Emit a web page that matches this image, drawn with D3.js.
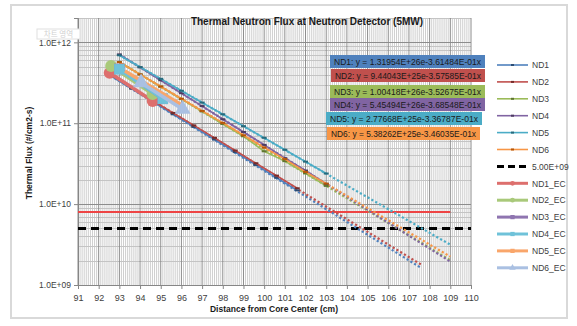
<!DOCTYPE html>
<html>
<head>
<meta charset="utf-8">
<script src="https://cdn.jsdelivr.net/npm/d3@7"></script>
<style>
  body { margin: 0; background: #fff; }
  svg { display: block; font-family: "Liberation Sans", Arial, sans-serif; }
</style>
</head>
<body>
<svg id="chart" width="577" height="326"></svg>
<script>
// --- data ---
const seriesNames = ['ND1', 'ND2', 'ND3', 'ND4', 'ND5', 'ND6'];
const xShort = [92.6, 93.6, 94.6, 95.6, 96.6, 97.6, 98.6, 99.6, 100.6, 101.6];
const xLong = [93, 94, 95, 96, 97, 98, 99, 100, 101, 102, 103];
const nd1 = [3.83e11, 2.67e11, 1.86e11, 1.29e11, 9.0e10, 6.3e10, 4.4e10, 3.05e10, 2.12e10, 1.48e10];
const nd2 = [3.93e11, 2.75e11, 1.92e11, 1.34e11, 9.4e10, 6.6e10, 4.6e10, 3.2e10, 2.25e10, 1.57e10];
const nd3 = [5.72e11, 4.02e11, 2.83e11, 1.99e11, 1.40e11, 9.8e10, 6.9e10, 4.5e10, 3.4e10, 2.4e10, 1.68e10];
const nd4 = [7.10e11, 4.91e11, 3.40e11, 2.35e11, 1.63e11, 1.12e11, 7.8e10, 5.4e10, 3.7e10, 2.6e10, 1.78e10];
const nd5 = [6.93e11, 4.95e11, 3.54e11, 2.52e11, 1.80e11, 1.29e11, 9.2e10, 6.6e10, 4.7e10, 3.35e10, 2.39e10];
const nd6 = [5.69e11, 4.02e11, 2.85e11, 2.01e11, 1.42e11, 1.01e11, 7.1e10, 5.0e10, 3.6e10, 2.5e10, 1.79e10];

// trendline end points (forecast forward), start is the first data point
const trendEndX = [107.6, 107.6, 109, 109, 109, 109];
const trendEndY = [1.62e9, 1.78e9, 2.03e9, 1.95e9, 3.15e9, 2.24e9];
const trendLabels = [
  'ND1: y = 1.31954E+26e-3.61484E-01x',
  'ND2: y = 9.44043E+25e-3.57585E-01x',
  'ND3: y = 1.00418E+26e-3.52675E-01x',
  'ND4: y = 5.45494E+26e-3.68548E-01x',
  'ND5: y = 2.77668E+25e-3.36787E-01x',
  'ND6: y = 5.38262E+25e-3.46035E-01x'
];

// EC series (two points each)
const ecNames = ['ND1_EC', 'ND2_EC', 'ND3_EC', 'ND4_EC', 'ND5_EC', 'ND6_EC'];
const ecX = [[92.53, 94.61], [92.6, 94.61], [93.0, 95.1], [93.0, 95.1], [93.27, 95.96], [94.05, 96.06]];
const ecY = [[4.2e11, 1.88e11], [5.1e11, 2.29e11], [4.7e11, 2.0e11], [4.64e11, 2.01e11], [4.43e11, 1.72e11], [3.17e11, 1.49e11]];

const limitValue = 5.0e9;
const redLineValue = 8.0e9;
const redLineRange = [91, 109];

const xTicks = d3.range(91, 111);
const yTicks = [1e9, 1e10, 1e11, 1e12];

// --- styles ---
const COLORS = ['#4f81bd', '#c0504d', '#9bbb59', '#8064a2', '#4bacc6', '#f79646'];
const DARK = ['#2c4d75', '#772c2a', '#5f7530', '#4d3b62', '#276a7c', '#b65708'];
const EC_COLORS = ['#dd6f6d', '#a9c97a', '#8f75b0', '#6fc2d9', '#f9a66b', '#aac0e2'];
const EC_SYMBOLS = [d3.symbolCircle, d3.symbolCircle, d3.symbolSquare, d3.symbolSquare, d3.symbolSquare, d3.symbolTriangle];

const plot = { left: 78, right: 471, top: 18, bottom: 285 };

const svg = d3.select('#chart');

// chart area frame
svg.append('rect')
  .attr('x', 11).attr('y', 5).attr('width', 556).attr('height', 313)
  .attr('fill', '#fff').attr('stroke', '#d9d9d9').attr('stroke-width', 2);

const x = d3.scaleLinear().domain([91, 110]).range([plot.left, plot.right]);
const y = d3.scaleLog().domain([1e9, 2e12]).range([plot.bottom, plot.top]);

// --- grid ---
const grid = svg.append('g');
const minorX = d3.range(910, 1101).map(d => d / 10).filter(d => Math.abs(d - Math.round(d)) > 1e-6);
grid.selectAll('.vminor').data(minorX).join('line')
  .attr('x1', d => x(d)).attr('x2', d => x(d))
  .attr('y1', plot.top).attr('y2', plot.bottom)
  .attr('stroke', '#cfcfcf').attr('stroke-width', 1);

const minorY = [];
for (let e = 9; e <= 12; e++) {
  for (let m = 2; m <= 9; m++) {
    const v = m * Math.pow(10, e);
    if (v <= 2e12) minorY.push(v);
  }
}
grid.selectAll('.hminor').data(minorY).join('line')
  .attr('x1', plot.left).attr('x2', plot.right)
  .attr('y1', d => Math.round(y(d)) + 0.5).attr('y2', d => Math.round(y(d)) + 0.5)
  .attr('stroke', '#c4c4c4').attr('stroke-width', 1);

grid.selectAll('.vmajor').data(xTicks).join('line')
  .attr('x1', d => x(d)).attr('x2', d => x(d))
  .attr('y1', plot.top).attr('y2', plot.bottom)
  .attr('stroke', '#8c8c8c').attr('stroke-width', 1);

grid.selectAll('.hmajor').data(yTicks).join('line')
  .attr('x1', plot.left).attr('x2', plot.right)
  .attr('y1', d => Math.round(y(d)) + 0.5).attr('y2', d => Math.round(y(d)) + 0.5)
  .attr('stroke', '#8c8c8c').attr('stroke-width', 1);

// --- axes ---
const xAxis = svg.append('g')
  .attr('transform', `translate(0,${plot.bottom})`)
  .call(d3.axisBottom(x).tickValues(xTicks).tickSize(4).tickFormat(d3.format('d')));
xAxis.select('.domain').attr('stroke', '#868686');
xAxis.selectAll('.tick line').attr('stroke', '#868686');
xAxis.selectAll('text').attr('font-size', '9px').attr('fill', '#404040')
  .attr('font-family', '"Liberation Sans", Arial, sans-serif').attr('dy', '0.95em');

const yAxis = svg.append('g')
  .attr('transform', `translate(${plot.left},0)`)
  .call(d3.axisLeft(y).tickValues(yTicks).tickSize(4)
    .tickFormat(d => '1.0E+' + String(Math.round(Math.log10(d))).padStart(2, '0')));
yAxis.select('.domain').attr('stroke', '#868686');
yAxis.selectAll('.tick line').attr('stroke', '#868686');
yAxis.selectAll('text').attr('font-size', '8.5px').attr('fill', '#404040')
  .attr('font-family', '"Liberation Sans", Arial, sans-serif').attr('x', -7);

// --- series ---
const line = d3.line().x(d => x(d[0])).y(d => y(d[1]));
const ndValues = [nd1, nd2, nd3, nd4, nd5, nd6];
const ndX = [xShort, xShort, xLong, xLong, xLong, xLong];

const marks = svg.append('g');

// reference lines
marks.append('path')
  .attr('d', line([[redLineRange[0], redLineValue], [redLineRange[1], redLineValue]]))
  .attr('stroke', '#ee4444').attr('stroke-width', 2).attr('fill', 'none');
marks.append('path')
  .attr('d', line([[91, limitValue], [110, limitValue]]))
  .attr('stroke', '#000').attr('stroke-width', 3).attr('fill', 'none')
  .attr('stroke-dasharray', '8,5');

// dotted trendlines
seriesNames.forEach((name, i) => {
  const xs = ndX[i], vs = ndValues[i];
  marks.append('path')
    .attr('d', line([[xs[0], vs[0]], [trendEndX[i], trendEndY[i]]]))
    .attr('stroke', COLORS[i]).attr('stroke-width', 2.2).attr('fill', 'none')
    .attr('stroke-dasharray', '2.2,2.2');
});

// measured series
seriesNames.forEach((name, i) => {
  const pts = ndX[i].map((d, j) => [d, ndValues[i][j]]);
  marks.append('path')
    .attr('d', line(pts))
    .attr('stroke', COLORS[i]).attr('stroke-width', 1.6).attr('fill', 'none');
  marks.selectAll(null).data(pts).join('rect')
    .attr('x', d => x(d[0]) - 2.5).attr('y', d => y(d[1]) - 1)
    .attr('width', 5).attr('height', 2)
    .attr('fill', DARK[i]);
});

// EC series
ecNames.forEach((name, i) => {
  const pts = ecX[i].map((d, j) => [d, ecY[i][j]]);
  marks.append('path')
    .attr('d', line(pts))
    .attr('stroke', EC_COLORS[i]).attr('stroke-width', 3.5).attr('fill', 'none');
  marks.selectAll(null).data(pts).join('path')
    .attr('transform', d => `translate(${x(d[0])},${y(d[1])})`)
    .attr('d', d3.symbol().type(EC_SYMBOLS[i]).size(i === 4 ? 0 : 110))
    .attr('fill', EC_COLORS[i]);
});

// --- trendline equation labels ---
const labelBoxes = [
  { x: 330, y: 55, w: 155 }, { x: 331, y: 69, w: 154 }, { x: 330, y: 85, w: 155 },
  { x: 330, y: 98, w: 155 }, { x: 326, y: 112, w: 156 }, { x: 327, y: 127, w: 153 }
];
trendLabels.forEach((t, i) => {
  const b = labelBoxes[i];
  svg.append('rect')
    .attr('x', b.x).attr('y', b.y).attr('width', b.w).attr('height', 13)
    .attr('fill', COLORS[i]);
  svg.append('text')
    .attr('x', b.x + 4).attr('y', b.y + 10)
    .attr('textLength', b.w - 8).attr('lengthAdjust', 'spacingAndGlyphs')
    .attr('font-size', '9px').attr('fill', '#1a1a1a')
    .text(t);
});

// --- legend ---
const legendItems = [
  ...seriesNames.map((n, i) => ({ name: n, kind: 'nd', i })),
  { name: '5.00E+09', kind: 'limit' },
  ...ecNames.map((n, i) => ({ name: n, kind: 'ec', i }))
];
const legend = svg.append('g');
legendItems.forEach((d, k) => {
  const ly = 65 + k * 16.9;
  const g = legend.append('g').attr('transform', `translate(497,${ly})`);
  if (d.kind === 'nd') {
    g.append('line').attr('x1', 0).attr('x2', 31).attr('stroke', COLORS[d.i]).attr('stroke-width', 1.6);
    g.append('rect').attr('x', 14).attr('y', -1).attr('width', 3).attr('height', 2).attr('fill', DARK[d.i]);
  } else if (d.kind === 'limit') {
    g.append('line').attr('x1', 0).attr('x2', 31).attr('stroke', '#000').attr('stroke-width', 3)
      .attr('stroke-dasharray', '7,4');
  } else {
    g.append('line').attr('x1', 0).attr('x2', 31).attr('stroke', EC_COLORS[d.i]).attr('stroke-width', 3);
    g.append('path').attr('transform', 'translate(15.5,0)')
      .attr('d', d3.symbol().type(EC_SYMBOLS[d.i]).size(18)).attr('fill', EC_COLORS[d.i]);
  }
  g.append('text').attr('x', 35).attr('y', 3.2)
    .attr('font-size', '8.5px').attr('fill', '#404040').text(d.name);
});

// --- titles ---
svg.append('text')
  .attr('x', 307).attr('y', 25).attr('text-anchor', 'middle')
  .attr('font-size', '10px').attr('font-weight', 'bold').attr('fill', '#1a1a1a')
  .text('Thermal Neutron Flux at Neutron Detector (5MW)');

svg.append('text')
  .attr('x', 274).attr('y', 312).attr('text-anchor', 'middle')
  .attr('font-size', '8.5px').attr('font-weight', 'bold').attr('fill', '#1a1a1a')
  .text('Distance from Core Center (cm)');

svg.append('text')
  .attr('transform', 'translate(32,153) rotate(-90)').attr('text-anchor', 'middle')
  .attr('font-size', '8.5px').attr('font-weight', 'bold').attr('fill', '#1a1a1a')
  .text('Thermal Flux (#/cm2-s)');

// tooltip left over in the screenshot
svg.append('rect')
  .attr('x', 37).attr('y', 29).attr('width', 43).attr('height', 10)
  .attr('fill', '#fff').attr('stroke', '#e0e0e0');
svg.append('text')
  .attr('x', 58.5).attr('y', 37).attr('text-anchor', 'middle')
  .attr('font-family', '"Noto Sans CJK KR", sans-serif')
  .attr('font-size', '7.5px').attr('fill', '#d0d0d0')
  .text('차트 영역');
</script>
</body>
</html>
